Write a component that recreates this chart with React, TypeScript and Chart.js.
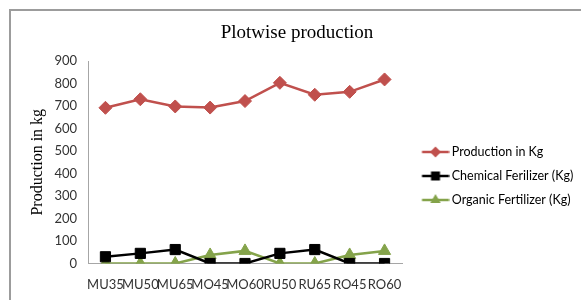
import React, { useEffect, useRef } from "react";
import { Chart, registerables } from "chart.js";

Chart.register(...registerables);

const categories = ["MU35", "MU50", "MU65", "MO45", "MO60", "RU50", "RU65", "RO45", "RO60"];
const production = [692, 730, 698, 693, 722, 803, 750, 763, 818];
const chemical = [30, 45, 62, 0, 0, 45, 62, 0, 0];
const organic = [0, 0, 0, 38, 56, 0, 0, 38, 56];
const seriesNames = ["Production in Kg", "Chemical Ferilizer (Kg)", "Organic Fertilizer (Kg)"];
const yMin = 0;
const yMax = 900;
const yStep = 100;

const RED = "#C0504D";
const BLACK = "#000000";
const GREEN = "#84A34A";

const LEGEND_FONT = 12.5;
const LEGEND_PAD = 11.5;
const LEGEND_BOX = 32;
const LEGEND_MAX = 179;

function makeSwatch(color: string, shape: string): HTMLCanvasElement {
  const c = document.createElement("canvas");
  c.width = 40;
  c.height = 14;
  const ctx = c.getContext("2d")!;
  ctx.strokeStyle = color;
  ctx.fillStyle = color;
  ctx.lineWidth = 2.5;
  ctx.beginPath();
  ctx.moveTo(12.5, 7);
  ctx.lineTo(39.5, 7);
  ctx.stroke();
  const cx = 26;
  const cy = 7;
  ctx.beginPath();
  if (shape === "diamond") {
    const r = 5.5;
    ctx.moveTo(cx, cy - r);
    ctx.lineTo(cx + r, cy);
    ctx.lineTo(cx, cy + r);
    ctx.lineTo(cx - r, cy);
    ctx.closePath();
  } else if (shape === "square") {
    ctx.rect(cx - 4.5, cy - 4.5, 9, 9);
  } else {
    const r = 6;
    ctx.moveTo(cx, cy - r);
    ctx.lineTo(cx + r * 0.866, cy + r * 0.5);
    ctx.lineTo(cx - r * 0.866, cy + r * 0.5);
    ctx.closePath();
  }
  ctx.fill();
  return c;
}

export default function App() {
  const ref = useRef<HTMLCanvasElement | null>(null);

  useEffect(() => {
    if (!ref.current) return;
    const swatches = [makeSwatch(RED, "diamond"), makeSwatch(BLACK, "square"), makeSwatch(GREEN, "triangle")];
    const mctx = ref.current.getContext("2d")!;
    mctx.font = `${LEGEND_FONT}px Lato`;
    const tw = Math.max(...seriesNames.map((s) => mctx.measureText(s).width));
    const legendW = LEGEND_PAD + LEGEND_BOX + LEGEND_FONT / 2 + tw + 10;
    const padRight = Math.max(0, LEGEND_MAX - legendW);

    const chart = new Chart(ref.current, {
      type: "line",
      data: {
        labels: categories,
        datasets: [
          {
            label: seriesNames[0],
            data: production,
            borderColor: RED,
            backgroundColor: RED,
            borderWidth: 2.5,
            pointStyle: "rectRot",
            pointRadius: 6.5,
            pointBackgroundColor: RED,
            pointBorderColor: RED,
            pointBorderWidth: 1,
            tension: 0,
          },
          {
            label: seriesNames[1],
            data: chemical,
            borderColor: BLACK,
            backgroundColor: BLACK,
            borderWidth: 2.5,
            pointStyle: "rect",
            pointRadius: 7.2,
            pointBackgroundColor: BLACK,
            pointBorderColor: BLACK,
            pointBorderWidth: 1,
            tension: 0,
          },
          {
            label: seriesNames[2],
            data: organic,
            borderColor: GREEN,
            backgroundColor: GREEN,
            borderWidth: 2.5,
            pointStyle: "triangle",
            pointRadius: 7,
            pointBackgroundColor: GREEN,
            pointBorderColor: GREEN,
            pointBorderWidth: 1,
            tension: 0,
          },
        ],
      },
      options: {
        animation: false,
        responsive: false,
        layout: { padding: { left: 13, right: padRight, top: 10, bottom: 0 } },
        plugins: {
          tooltip: { enabled: false },
          title: {
            display: true,
            text: "Plotwise production",
            color: "#000",
            font: { family: "Liberation Serif", size: 19, weight: "normal" },
            padding: { top: 12, bottom: 16.2 },
          },
          legend: {
            position: "right",
            align: "center",
            maxWidth: LEGEND_MAX,
            title: {
              display: true,
              text: " ",
              font: { size: 10 },
              padding: { top: 15, bottom: 15 },
            },
            labels: {
              usePointStyle: true,
              pointStyleWidth: LEGEND_BOX,
              padding: LEGEND_PAD,
              color: "#000",
              font: { family: "Lato", size: LEGEND_FONT },
              generateLabels: (c: any) => {
                const items = Chart.defaults.plugins.legend.labels.generateLabels(c);
                return items.map((it: any, i: number) => ({ ...it, pointStyle: swatches[i], rotation: 0 }));
              },
            },
          },
        },
        scales: {
          x: {
            type: "category",
            offset: true,
            grid: { display: false, drawTicks: false },
            border: { display: true, color: "#A6A6A6", width: 1 },
            ticks: {
              autoSkip: false,
              maxRotation: 0,
              minRotation: 0,
              padding: 14,
              color: "#333",
              font: { family: "Lato", size: 13 },
            },
            afterFit: (s: any) => {
              s.height = 36.5;
            },
          },
          y: {
            min: yMin,
            max: yMax,
            grid: { display: false, drawTicks: false },
            border: { display: true, color: "#A6A6A6", width: 1 },
            ticks: {
              stepSize: yStep,
              padding: 11,
              color: "#333",
              font: { family: "Lato", size: 13 },
            },
            title: {
              display: true,
              text: "Production in kg",
              color: "#000",
              font: { family: "Liberation Serif", size: 16 },
              padding: { top: 15.4, bottom: 4 },
            },
            afterFit: (s: any) => {
              s.width = 75;
            },
          },
        },
      },
    });
    return () => chart.destroy();
  }, []);

  return (
    <div style={{ position: "fixed", left: 0, top: 0, width: 581, height: 300, background: "#fff", overflow: "hidden" }}>
      <div
        style={{
          position: "absolute",
          left: 9,
          top: 9,
          width: 600,
          height: 320,
          borderTop: "2px solid #9C9C9C",
          borderLeft: "2px solid #9C9C9C",
        }}
      />
      <canvas ref={ref} width={581} height={300} style={{ position: "absolute", left: 0, top: 0, width: 581, height: 300 }} />
    </div>
  );
}
